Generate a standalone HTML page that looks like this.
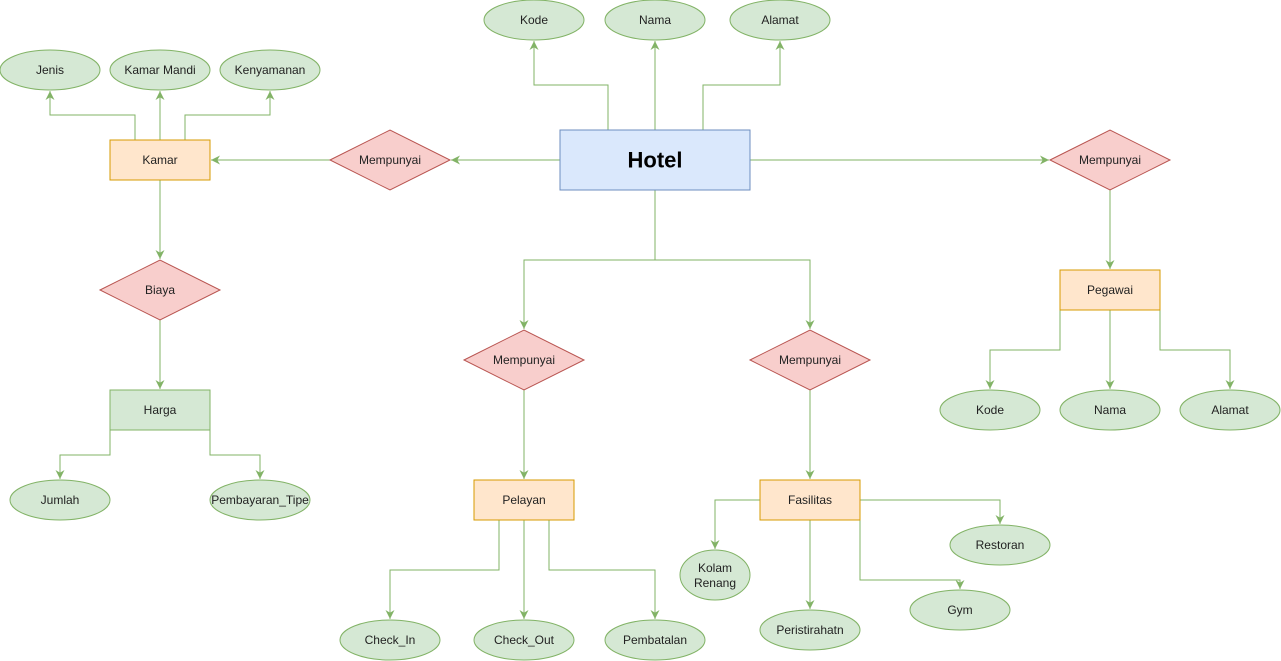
<!DOCTYPE html>
<html><head><meta charset="utf-8"><style>
html,body{margin:0;padding:0;background:#fff;}
svg{display:block;}
text{font-family:"Liberation Sans",Helvetica,sans-serif;font-size:12px;fill:#222;text-anchor:middle;dominant-baseline:central;}
</style></head><body>
<svg width="1281" height="661" viewBox="0 0 1281 661" xmlns="http://www.w3.org/2000/svg">
<defs>
<marker id="a" viewBox="0 0 10 10" refX="10" refY="5" markerWidth="9" markerHeight="9" orient="auto" markerUnits="userSpaceOnUse">
<path d="M0,0 L10,5 L0,10 L3,5 Z" fill="#82b366"/>
</marker>
</defs>
<g fill="none" stroke="#82b366" stroke-width="1" marker-end="url(#a)">
<polyline points="608,130 608,85 534,85 534,41"/>
<polyline points="655,130 655,41"/>
<polyline points="703,130 703,85 780,85 780,41"/>
<polyline points="560,160 451,160"/>
<polyline points="330,160 211,160"/>
<polyline points="135,140 135,115 50,115 50,91"/>
<polyline points="160,140 160,91"/>
<polyline points="185,140 185,115 270,115 270,91"/>
<polyline points="160,180 160,259"/>
<polyline points="160,320 160,389"/>
<polyline points="110,430 110,455 60,455 60,479"/>
<polyline points="210,430 210,455 260,455 260,479"/>
<polyline points="750,160 1049,160"/>
<polyline points="1110,190 1110,269"/>
<polyline points="1060,310 1060,350 990,350 990,389"/>
<polyline points="1110,310 1110,389"/>
<polyline points="1160,310 1160,350 1230,350 1230,389"/>
<polyline points="655,190 655,260 524,260 524,329"/>
<polyline points="655,260 810,260 810,329"/>
<polyline points="524,390 524,479"/>
<polyline points="810,390 810,479"/>
<polyline points="499,520 499,570 390,570 390,619"/>
<polyline points="524,520 524,619"/>
<polyline points="549,520 549,570 655,570 655,619"/>
<polyline points="760,500 715,500 715,549"/>
<polyline points="860,500 1000,500 1000,524"/>
<polyline points="810,520 810,609"/>
<polyline points="860,520 860,580 960,580 960,589"/>
</g>
<g fill="#d5e8d4" stroke="#82b366">
<ellipse cx="534" cy="20" rx="50" ry="20"/>
<ellipse cx="655" cy="20" rx="50" ry="20"/>
<ellipse cx="780" cy="20" rx="50" ry="20"/>
<ellipse cx="50" cy="70" rx="50" ry="20"/>
<ellipse cx="160" cy="70" rx="50" ry="20"/>
<ellipse cx="270" cy="70" rx="50" ry="20"/>
<ellipse cx="60" cy="500" rx="50" ry="20"/>
<ellipse cx="260" cy="500" rx="50" ry="20"/>
<ellipse cx="990" cy="410" rx="50" ry="20"/>
<ellipse cx="1110" cy="410" rx="50" ry="20"/>
<ellipse cx="1230" cy="410" rx="50" ry="20"/>
<ellipse cx="390" cy="640" rx="50" ry="20"/>
<ellipse cx="524" cy="640" rx="50" ry="20"/>
<ellipse cx="655" cy="640" rx="50" ry="20"/>
<ellipse cx="715" cy="575" rx="35" ry="25"/>
<ellipse cx="1000" cy="545" rx="50" ry="20"/>
<ellipse cx="810" cy="630" rx="50" ry="20"/>
<ellipse cx="960" cy="610" rx="50" ry="20"/>
<rect x="110" y="390" width="100" height="40"/>
</g>
<g fill="#ffe6cc" stroke="#d79b00">
<rect x="110" y="140" width="100" height="40"/>
<rect x="1060" y="270" width="100" height="40"/>
<rect x="474" y="480" width="100" height="40"/>
<rect x="760" y="480" width="100" height="40"/>
</g>
<rect x="560" y="130" width="190" height="60" fill="#dae8fc" stroke="#6c8ebf"/>
<g fill="#f8cecc" stroke="#b85450">
<polygon points="330,160 390,130 450,160 390,190"/>
<polygon points="100,290 160,260 220,290 160,320"/>
<polygon points="1050,160 1110,130 1170,160 1110,190"/>
<polygon points="464,360 524,330 584,360 524,390"/>
<polygon points="750,360 810,330 870,360 810,390"/>
</g>
<text x="655" y="160" style="font-size:22px;font-weight:bold;fill:#000">Hotel</text>
<text x="534" y="20">Kode</text>
<text x="655" y="20">Nama</text>
<text x="780" y="20">Alamat</text>
<text x="50" y="70">Jenis</text>
<text x="160" y="70">Kamar Mandi</text>
<text x="270" y="70">Kenyamanan</text>
<text x="160" y="160">Kamar</text>
<text x="390" y="160">Mempunyai</text>
<text x="160" y="290">Biaya</text>
<text x="160" y="410">Harga</text>
<text x="60" y="500">Jumlah</text>
<text x="260" y="500">Pembayaran_Tipe</text>
<text x="1110" y="160">Mempunyai</text>
<text x="1110" y="290">Pegawai</text>
<text x="990" y="410">Kode</text>
<text x="1110" y="410">Nama</text>
<text x="1230" y="410">Alamat</text>
<text x="524" y="360">Mempunyai</text>
<text x="810" y="360">Mempunyai</text>
<text x="524" y="500">Pelayan</text>
<text x="810" y="500">Fasilitas</text>
<text x="390" y="640">Check_In</text>
<text x="524" y="640">Check_Out</text>
<text x="655" y="640">Pembatalan</text>
<text x="715" y="568">Kolam</text>
<text x="715" y="583">Renang</text>
<text x="1000" y="545">Restoran</text>
<text x="810" y="630">Peristirahatn</text>
<text x="960" y="610">Gym</text>
</svg>
</body></html>
